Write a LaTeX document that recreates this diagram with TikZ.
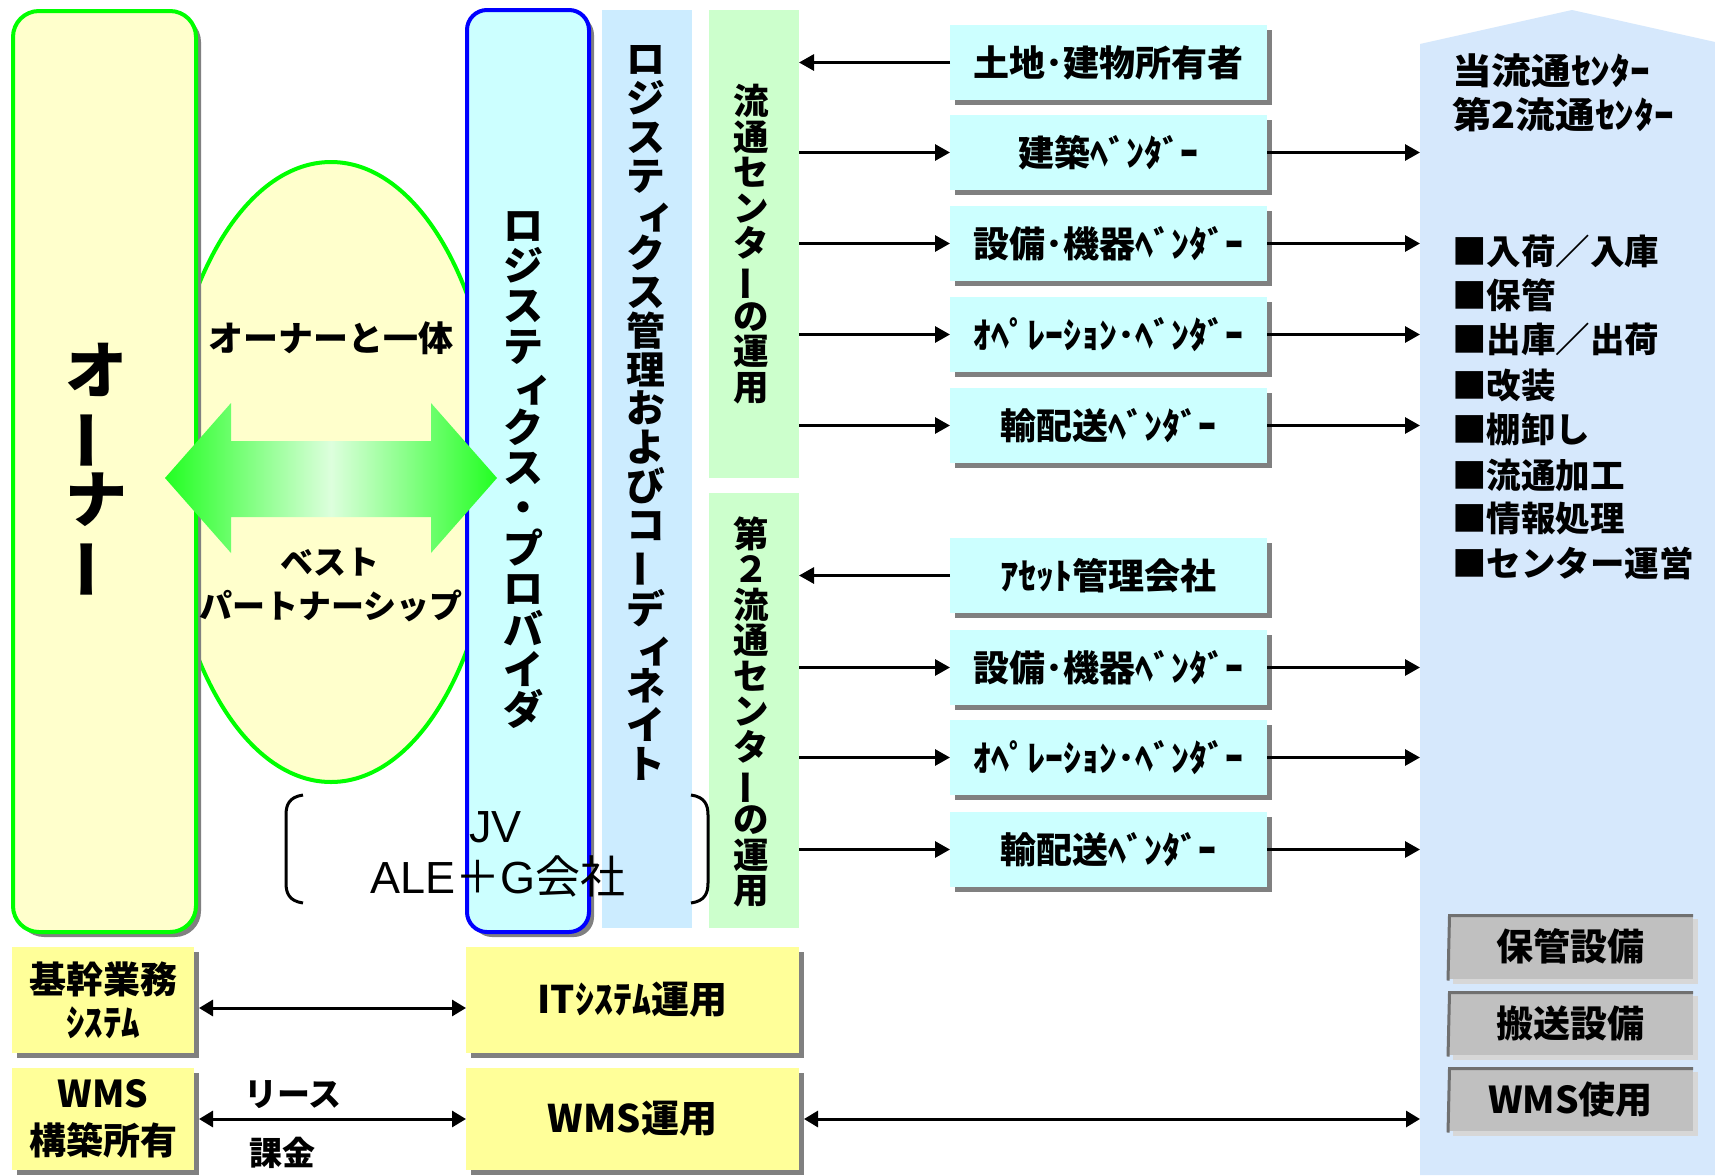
\documentclass[tikz,border=0pt]{standalone}
\usepackage{fontspec}
\usepackage{graphicx}
\setmainfont{Noto Sans CJK JP}
\newfontfamily\lat{Liberation Sans}
\usetikzlibrary{arrows.meta,shadows,shapes.geometric}
\definecolor{ownfill}{RGB}{255,255,204}
\definecolor{ownline}{RGB}{0,255,0}
\definecolor{lpfill}{RGB}{204,255,255}
\definecolor{lpline}{RGB}{0,0,255}
\definecolor{lmfill}{RGB}{204,236,255}
\definecolor{gcol}{RGB}{204,255,204}
\definecolor{vfill}{RGB}{204,255,255}
\definecolor{yfill}{RGB}{255,255,153}
\definecolor{pfill}{RGB}{214,232,252}
\definecolor{gboxc}{RGB}{192,192,192}
\definecolor{gdark}{RGB}{112,112,112}
\definecolor{glight}{RGB}{215,215,215}
\definecolor{shd}{RGB}{128,128,128}
\definecolor{agreen}{RGB}{34,255,34}
\definecolor{apale}{RGB}{221,255,221}
\newcommand\myfs[2]{\fontsize{#1}{#2}\selectfont}
\newcommand\vbar{\rotatebox[origin=c]{90}{ー}}
\newcommand\skn[1]{\makebox[1em][l]{\hspace*{0.25em}#1}}
\begin{document}
\begin{tikzpicture}[x=1pt,y=-1pt,
  sh/.style={drop shadow={shadow xshift=5pt,shadow yshift=-5pt,fill=shd,opacity=1}},
  lsh/.style={drop shadow={shadow xshift=5pt,shadow yshift=-5pt,fill=glight,opacity=1}},
  nw/.style={anchor=north west, inner sep=0pt, outer sep=0pt},
  ownbox/.style={nw, rectangle, rounded corners=26pt, fill=ownfill, draw=ownline, line width=4pt, sh},
  lpbox/.style={nw, rectangle, rounded corners=20pt, fill=lpfill, draw=lpline, line width=4pt, sh},
  colbox/.style={nw, rectangle},
  vbox/.style={nw, rectangle, fill=vfill, sh, minimum width=317pt, minimum height=75pt, font=\bfseries\myfs{36}{40}},
  ybox/.style={nw, rectangle, fill=yfill, sh, align=center, font=\bfseries\myfs{38}{45}},
  gbx/.style={nw, rectangle, fill=gboxc, lsh, minimum width=245pt, minimum height=64pt, font=\bfseries\myfs{37}{40}},
  vstk/.style={inner sep=0pt, align=center},
  htxt/.style={inner sep=0pt, font=\bfseries\myfs{35}{40}},
  arr/.style={line width=3pt, -{Triangle[length=15pt,width=16pt]}},
  dbl/.style={line width=3pt, {Triangle[length=14pt,width=16pt]}-{Triangle[length=14pt,width=16pt]}},
  brk/.style={line width=3pt}
]
\useasboundingbox (0,0) rectangle (1715,1175);
\fill[white] (0,0) rectangle (1715,1175);

% right panel
\fill[pfill] (1420,1175) -- (1420,44) -- (1572,10) -- (1715,42) -- (1715,1175) -- cycle;
\coordinate (pw) at (1420,600);

% partnership ellipse
\node[ellipse, fill=ownfill, draw=ownline, line width=4pt, minimum width=332pt, minimum height=620pt, inner sep=0pt] (ell) at (331,472) {};

% main columns
\node[ownbox, minimum width=183pt, minimum height=921pt] (owner) at (13,11) {};
\node[lpbox, minimum width=122pt, minimum height=922pt] (lp) at (467,10) {};
\node[colbox, fill=lmfill, minimum width=90pt, minimum height=918pt] (lm) at (602,10) {};
\node[colbox, fill=gcol, minimum width=90pt, minimum height=468pt] (c1) at (709,10) {};
\node[colbox, fill=gcol, minimum width=90pt, minimum height=435pt] (c2) at (709,493) {};

% green double arrow
\shade[left color=agreen, right color=agreen, middle color=apale]
  (165,478) -- (231,403) -- (231,441) -- (431,441) -- (431,403) -- (497,478)
  -- (431,553) -- (431,517) -- (231,517) -- (231,553) -- cycle;

% vertical texts
\node[vstk, font=\bfseries\myfs{62}{62}] (ownT) at (96,472) {オ\\\vbar\\ナ\\\vbar};
\node[vstk, font=\bfseries\myfs{40}{40.4}] (lpT) at (523,470)
  {ロ\\ジ\\ス\\テ\\\skn{ィ}\\ク\\ス\\・\\プ\\ロ\\バ\\イ\\ダ};
\node[vstk, font=\bfseries\myfs{38.8}{38.8}] (lmT) at (646,413)
  {ロ\\ジ\\ス\\テ\\\skn{ィ}\\ク\\ス\\管\\理\\お\\よ\\び\\コ\\\vbar\\デ\\\skn{ィ}\\ネ\\イ\\ト};
\node[vstk, font=\bfseries\myfs{35.5}{35.5}] (c1T) at (751,244)
  {流\\通\\セ\\ン\\タ\\\vbar\\の\\運\\用};
\node[vstk, font=\bfseries\myfs{35.5}{35.5}] (c2T) at (751,712)
  {第\\２\\流\\通\\セ\\ン\\タ\\\vbar\\の\\運\\用};

% ellipse texts
\node[htxt] (ittai) at (331,338) {オーナーと一体};
\node[htxt, font=\bfseries\myfs{33}{40}] (best) at (330,562) {ベスト};
\node[htxt, font=\bfseries\myfs{33}{40}] (pship) at (331,606) {パートナーシップ};

% JV bracket
\draw[brk] (303,795) .. controls (289,797) and (286,805) .. (286,815) -- (286,883) .. controls (286,893) and (289,901) .. (303,903);
\draw[brk] (691,795) .. controls (705,797) and (708,805) .. (708,815) -- (708,883) .. controls (708,893) and (705,901) .. (691,903);
\node[anchor=base west, inner sep=0pt, font=\myfs{45}{47}] (jv) at (469,842) {\lat JV};
\node[anchor=base west, inner sep=0pt, font=\myfs{45}{47}] (aleg) at (370,893) {{\lat ALE}＋{\lat G}会社};

% vendor boxes
\node[vbox] (v1) at (950,25) {土地･建物所有者};
\node[vbox] (v2) at (950,115) {建築ﾍﾞﾝﾀﾞｰ};
\node[vbox] (v3) at (950,206) {設備･機器ﾍﾞﾝﾀﾞｰ};
\node[vbox] (v4) at (950,297) {ｵﾍﾟﾚｰｼｮﾝ･ﾍﾞﾝﾀﾞｰ};
\node[vbox] (v5) at (950,388) {輸配送ﾍﾞﾝﾀﾞｰ};
\node[vbox] (v6) at (950,538) {ｱｾｯﾄ管理会社};
\node[vbox] (v7) at (950,630) {設備･機器ﾍﾞﾝﾀﾞｰ};
\node[vbox] (v8) at (950,720) {ｵﾍﾟﾚｰｼｮﾝ･ﾍﾞﾝﾀﾞｰ};
\node[vbox] (v9) at (950,812) {輸配送ﾍﾞﾝﾀﾞｰ};

% arrows column <-> vendors
\draw[arr] (v1.west) -- (c1.east |- v1.west);
\draw[arr] (c1.east |- v2.west) -- (v2.west);
\draw[arr] (c1.east |- v3.west) -- (v3.west);
\draw[arr] (c1.east |- v4.west) -- (v4.west);
\draw[arr] (c1.east |- v5.west) -- (v5.west);
\draw[arr] (v6.west) -- (c2.east |- v6.west);
\draw[arr] (c2.east |- v7.west) -- (v7.west);
\draw[arr] (c2.east |- v8.west) -- (v8.west);
\draw[arr] (c2.east |- v9.west) -- (v9.west);
% arrows vendors -> panel
\foreach \v in {v2,v3,v4,v5,v7,v8,v9}
  \draw[arr] (\v.east) -- (pw |- \v.east);

% right panel texts
\node[htxt, anchor=west, xscale=1.1, font=\bfseries\myfs{36}{40}] (pt1) at (1452,71) {当流通ｾﾝﾀｰ};
\node[htxt, anchor=west, xscale=1.1, font=\bfseries\myfs{36}{40}] (pt2) at (1452,115) {第2流通ｾﾝﾀｰ};
\node[htxt, anchor=west, font=\bfseries\myfs{34.5}{40}] (l1) at (1452,251) {■入荷／入庫};
\node[htxt, anchor=west, font=\bfseries\myfs{34.5}{40}] (l2) at (1452,295) {■保管};
\node[htxt, anchor=west, font=\bfseries\myfs{34.5}{40}] (l3) at (1452,339) {■出庫／出荷};
\node[htxt, anchor=west, font=\bfseries\myfs{34.5}{40}] (l4) at (1452,385) {■改装};
\node[htxt, anchor=west, font=\bfseries\myfs{34.5}{40}] (l5) at (1452,429) {■棚卸し};
\node[htxt, anchor=west, font=\bfseries\myfs{34.5}{40}] (l6) at (1452,475) {■流通加工};
\node[htxt, anchor=west, font=\bfseries\myfs{34.5}{40}] (l7) at (1452,519) {■情報処理};
\node[htxt, anchor=west, font=\bfseries\myfs{34.5}{40}] (l8) at (1452,563) {■センター運営};

% gray boxes
\node[gbx, minimum height=65pt] (g1) at (1448,914) {保管設備};
\node[gbx] (g2) at (1448,991) {搬送設備};
\node[gbx] (g3) at (1448,1067) {WMS使用};
\foreach \g in {g1,g2,g3}
  \draw[gdark, line width=3pt] ([yshift=-1.5pt]\g.south west) -- ([xshift=1.5pt,yshift=-1.5pt]\g.north west) -- ([yshift=-1.5pt]\g.north east);

% bottom yellow boxes
\node[ybox, minimum width=182pt, minimum height=106pt, font=\bfseries\myfs{37}{45}] (kikan) at (12,947) {基幹業務\\[-2pt]ｼｽﾃﾑ};
\node[ybox, minimum width=182pt, minimum height=102pt, font=\bfseries\myfs{37}{45}] (wmsown) at (12,1068) {WMS\\[2pt]構築所有};
\node[ybox, minimum width=333pt, minimum height=106pt] (itops) at (466,947) {ITｼｽﾃﾑ運用};
\node[ybox, minimum width=333pt, minimum height=102pt] (wmsops) at (466,1068) {WMS運用};

% bottom arrows
\draw[dbl] ([xshift=5pt]kikan.east |- 0,1008) -- (itops.west |- 0,1008);
\draw[dbl] ([xshift=5pt]wmsown.east) -- (wmsops.west);
\draw[dbl] ([xshift=5pt]wmsops.east) -- (pw |- wmsops.east);
\node[htxt, font=\bfseries\myfs{33}{40}] (lease) at (293,1095) {リース};
\node[htxt, font=\bfseries\myfs{33}{40}] (kakin) at (282,1153) {課金};
\end{tikzpicture}
\end{document}
